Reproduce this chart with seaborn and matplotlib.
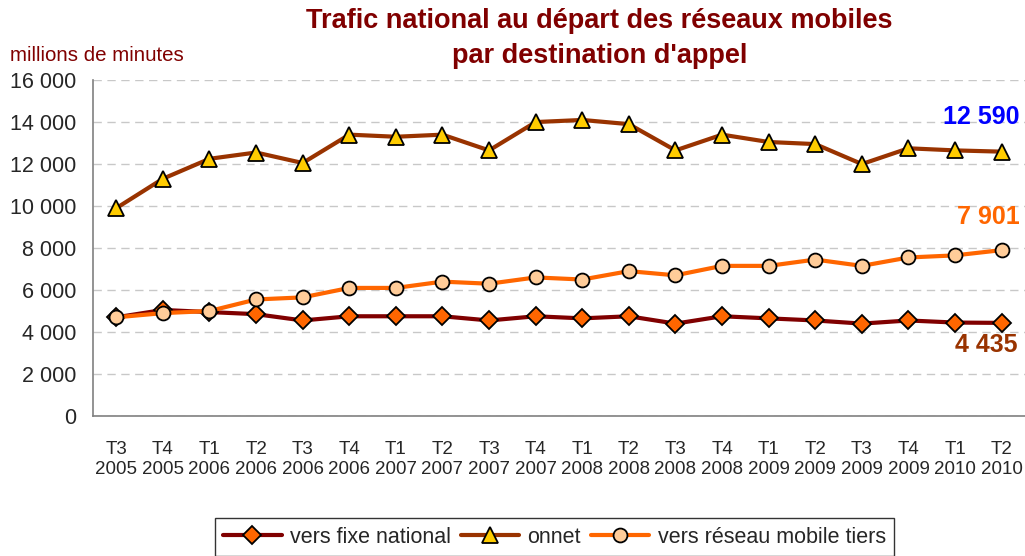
import matplotlib
matplotlib.use("Agg")
import matplotlib.pyplot as plt
import numpy as np
import pandas as pd
import seaborn as sns

# donnees (millions de minutes)
periodes = ["T3\n2005", "T4\n2005", "T1\n2006", "T2\n2006", "T3\n2006", "T4\n2006",
            "T1\n2007", "T2\n2007", "T3\n2007", "T4\n2007", "T1\n2008", "T2\n2008",
            "T3\n2008", "T4\n2008", "T1\n2009", "T2\n2009", "T3\n2009", "T4\n2009",
            "T1\n2010", "T2\n2010"]
fixe_national = [4700, 5050, 4950, 4850, 4550, 4750, 4750, 4750, 4550, 4750,
                 4650, 4750, 4400, 4750, 4650, 4550, 4400, 4550, 4450, 4435]
onnet = [9900, 11300, 12250, 12550, 12050, 13400, 13300, 13400, 12650, 14000,
         14100, 13900, 12650, 13400, 13050, 12950, 12000, 12750, 12650, 12590]
mobile_tiers = [4700, 4900, 5000, 5550, 5650, 6100, 6100, 6400, 6300, 6600,
                6500, 6900, 6700, 7150, 7150, 7450, 7150, 7550, 7650, 7901]

df = pd.DataFrame({"periode": periodes, "fixe": fixe_national,
                   "onnet": onnet, "tiers": mobile_tiers})

sns.set_theme(style="white")
plt.rcParams["font.family"] = ["Liberation Sans", "DejaVu Sans"]

fig = plt.figure(figsize=(10.25, 5.56), dpi=100)
ax = fig.add_axes([0.0907, 0.2518, 0.9093, 0.6042])

sns.lineplot(data=df, x="periode", y="fixe", ax=ax, sort=False, color="#800000",
             lw=3, marker="D", markersize=9, markerfacecolor="#FF6600",
             markeredgecolor="black", markeredgewidth=1.3, label="vers fixe national", zorder=3)
sns.lineplot(data=df, x="periode", y="onnet", ax=ax, sort=False, color="#993300",
             lw=3, marker="^", markersize=11, markerfacecolor="#FFCC00",
             markeredgecolor="black", markeredgewidth=1.3, label="onnet", zorder=3)
sns.lineplot(data=df, x="periode", y="tiers", ax=ax, sort=False, color="#FF6600",
             lw=3, marker="o", markersize=10, markerfacecolor="#FFCC99",
             markeredgecolor="black", markeredgewidth=1.3, label="vers réseau mobile tiers", zorder=4)

ax.set_xlim(-0.5, 19.5)
ax.set_ylim(0, 16000)
ax.set_yticks(range(0, 16001, 2000))
ax.set_yticklabels([f"{v:,}".replace(",", " ") for v in range(0, 16001, 2000)], fontsize=15.5)
ax.set_xticks(range(len(periodes)))
ax.set_xticklabels(periodes, fontsize=13.5, linespacing=1.2)
ax.set_xticks(np.arange(-0.5, 20, 1), minor=True)
ax.tick_params(axis="x", which="major", length=0, pad=18)
ax.tick_params(axis="x", which="minor", length=6, direction="out", color="#808080", width=1.2)
ax.tick_params(axis="y", length=6, direction="out", color="#808080", width=1.2, pad=6)
ax.set_xlabel("")
ax.set_ylabel("")

ax.yaxis.grid(True, color="#c8c8c8", linestyle=(0, (6, 4)), lw=1)
ax.set_axisbelow(True)
for s in ["top", "right"]:
    ax.spines[s].set_visible(False)
for s in ["left", "bottom"]:
    ax.spines[s].set_color("#808080")
    ax.spines[s].set_linewidth(1.2)

# valeurs finales
n = len(periodes) - 1
ax.annotate("12 590", (n, onnet[-1]), xytext=(13, 25), textcoords="offset points",
            ha="right", va="center", color="#0000FF", fontsize=18, fontweight="bold")
ax.annotate("7 901", (n, mobile_tiers[-1]), xytext=(13, 24), textcoords="offset points",
            ha="right", va="center", color="#FF6600", fontsize=18, fontweight="bold")
ax.annotate("4 435", (n, fixe_national[-1]), xytext=(11.5, -16), textcoords="offset points",
            ha="right", va="center", color="#993300", fontsize=18, fontweight="bold")

fig.text(0.585, 0.985, "Trafic national au départ des réseaux mobiles\npar destination d'appel",
         ha="center", va="top", color="#800000", fontsize=19.5, fontweight="bold", linespacing=1.45)
fig.text(0.01, 0.9, "millions de minutes", ha="left", va="center", color="#800000", fontsize=14.8)

leg = ax.legend(loc="upper center", bbox_to_anchor=(0.541, 0.068), bbox_transform=fig.transFigure,
                ncol=3, fontsize=15.5, frameon=True, fancybox=False, edgecolor="black",
                handlelength=2.7, columnspacing=0.45, handletextpad=0.4, borderpad=0.4,
                borderaxespad=0)
leg.get_frame().set_linewidth(1.0)

fig.savefig("out.png", dpi=100)
